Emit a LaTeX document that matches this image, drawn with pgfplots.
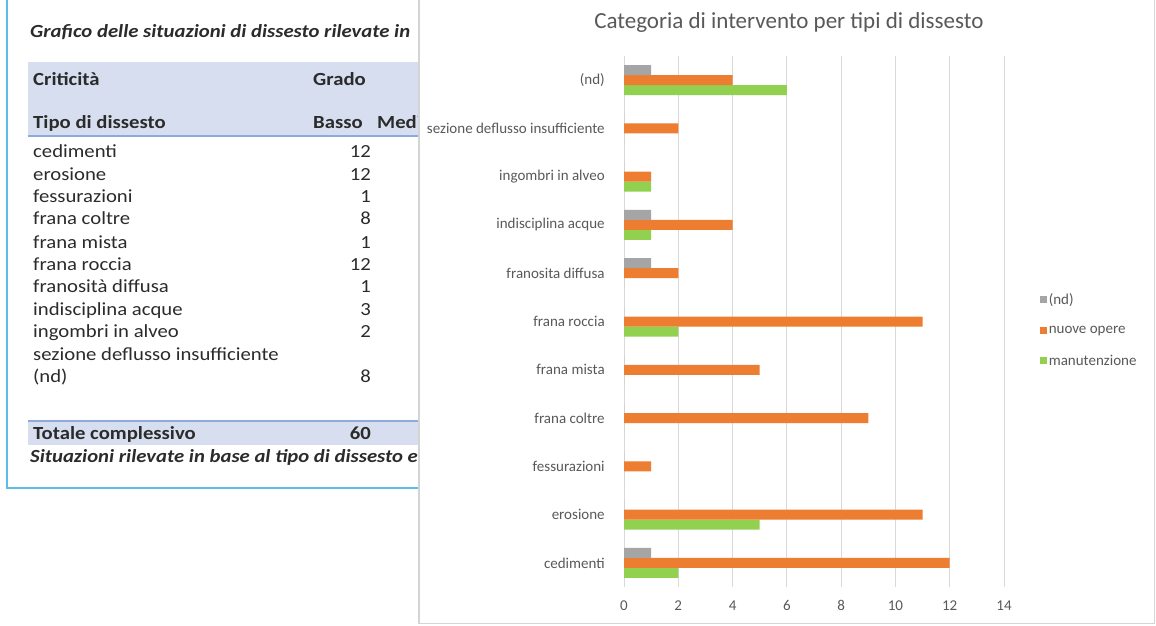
\documentclass[border=0pt]{standalone}
\usepackage{pgfplots}
\pgfplotsset{compat=1.18}
\usepackage{pgfplotstable}
\usepackage{fontspec}
\setmainfont{Carlito}
\newfontfamily\tabfont[FakeStretch=1.12]{Carlito}
\definecolor{ndgray}{HTML}{A5A5A5}
\definecolor{nuovo}{HTML}{ED7D31}
\definecolor{manut}{HTML}{92D050}
\definecolor{gridc}{HTML}{D9D9D9}
\definecolor{labc}{HTML}{595959}
\definecolor{hdrband}{HTML}{D6DEEF}
\definecolor{hdrline}{HTML}{8EA9DB}
\definecolor{frameblue}{HTML}{5DBDE6}
\definecolor{tabtext}{HTML}{2B2B2B}
\definecolor{panelb}{HTML}{D4D4D4}

\pgfplotstableread{
id nd nuove manut
0  1  12 2
1  0  11 5
2  0  1  0
3  0  9  0
4  0  5  0
5  0  11 2
6  1  2  0
7  1  4  1
8  0  1  1
9  0  2  0
10 1  4  6
}\datatab

\begin{document}
\begin{tikzpicture}
\useasboundingbox (0pt,0pt) rectangle (1156pt,625pt);
% ---------- left table panel ----------
\begin{scope}[every node/.style={inner sep=0pt, text=tabtext, font=\tabfont\fontsize{18.5}{20}\selectfont}]
\fill[hdrband] (28pt,490pt) rectangle (418pt,563pt);
\draw[hdrline, line width=1.5pt] (28pt,489pt) -- (418pt,489pt);
\fill[hdrband] (28pt,180pt) rectangle (418pt,204pt);
\draw[hdrline, line width=1.5pt] (28pt,204pt) -- (418pt,204pt);
\node[anchor=base west, font=\tabfont\fontsize{18.5}{20}\selectfont\bfseries\itshape] at (30pt,587pt) {Grafico delle situazioni di dissesto rilevate in};
\node[anchor=base west, font=\tabfont\fontsize{18.5}{20}\selectfont\bfseries] at (33pt,539pt) {Criticità};
\node[anchor=base west, font=\tabfont\fontsize{18.5}{20}\selectfont\bfseries] at (313pt,539pt) {Grado};
\node[anchor=base west, font=\tabfont\fontsize{18.5}{20}\selectfont\bfseries] at (33pt,496pt) {Tipo di dissesto};
\node[anchor=base west, font=\tabfont\fontsize{18.5}{20}\selectfont\bfseries] at (313pt,496pt) {Basso};
\node[anchor=base west, font=\tabfont\fontsize{18.5}{20}\selectfont\bfseries] at (377pt,496pt) {Medio};
\node[anchor=base west] at (33pt,467pt) {cedimenti};
\node[anchor=base west] at (33pt,444pt) {erosione};
\node[anchor=base west] at (33pt,422pt) {fessurazioni};
\node[anchor=base west] at (33pt,400pt) {frana coltre};
\node[anchor=base west] at (33pt,377pt) {frana mista};
\node[anchor=base west] at (33pt,355pt) {frana roccia};
\node[anchor=base west] at (33pt,333pt) {franosità diffusa};
\node[anchor=base west] at (33pt,310pt) {indisciplina acque};
\node[anchor=base west] at (33pt,288pt) {ingombri in alveo};
\node[anchor=base west] at (33pt,265pt) {sezione deflusso insufficiente};
\node[anchor=base west] at (33pt,243pt) {(nd)};
\node[anchor=base east] at (371pt,467pt) {12};
\node[anchor=base east] at (371pt,444pt) {12};
\node[anchor=base east] at (371pt,422pt) {1};
\node[anchor=base east] at (371pt,400pt) {8};
\node[anchor=base east] at (371pt,377pt) {1};
\node[anchor=base east] at (371pt,355pt) {12};
\node[anchor=base east] at (371pt,333pt) {1};
\node[anchor=base east] at (371pt,310pt) {3};
\node[anchor=base east] at (371pt,288pt) {2};
\node[anchor=base east] at (371pt,243pt) {8};
\node[anchor=base west, font=\tabfont\fontsize{18.5}{20}\selectfont\bfseries] at (33pt,186pt) {Totale complessivo};
\node[anchor=base east, font=\tabfont\fontsize{18.5}{20}\selectfont\bfseries] at (371pt,186pt) {60};
\node[anchor=base west, font=\tabfont\fontsize{18.5}{20}\selectfont\bfseries\itshape] at (30pt,163pt) {Situazioni rilevate in base al tipo di dissesto e grado};
\end{scope}
\draw[frameblue, line width=2pt] (7pt,625pt) -- (7pt,137pt) -- (418pt,137pt);
% ---------- chart panel ----------
\fill[white] (418pt,0pt) rectangle (1156pt,625pt);
\draw[panelb, line width=1.5pt] (418.75pt,625pt) -- (418.75pt,1.5pt) -- (1154.5pt,1.5pt) -- (1154.5pt,625pt);
\begin{axis}[
  at={(624pt,38pt)}, anchor=south west,
  scale only axis, width=380pt, height=531pt,
  xbar, bar width=10pt,
  xmin=0, xmax=14, ymin=-0.5, ymax=10.5,
  xtick={0,2,...,14}, ytick={0,...,10},
  yticklabels={cedimenti,erosione,fessurazioni,frana coltre,frana mista,frana roccia,franosita diffusa,indisciplina acque,ingombri in alveo,sezione deflusso insufficiente,(nd)},
  xmajorgrids, grid style={draw=gridc, line width=1pt},
  axis line style={draw=none}, tick style={draw=none},
  ticklabel style={font=\fontsize{15}{16}\selectfont, text=labc},
  xticklabel style={yshift=-10pt},
  yticklabel style={xshift=-11.5pt},
  /pgf/number format/assume math mode=true,
  title={Categoria di intervento per tipi di dissesto},
  title style={at={(0.434,1.051)}, anchor=center, font=\fontsize{23}{24}\selectfont, text=labc},
  reverse legend,
  legend cell align=left,
  legend style={at={(1.087,0.484)}, anchor=west, draw=none, fill=none,
    font=\fontsize{15}{16}\selectfont, text=labc, row sep=17pt,
    nodes={inner sep=1.5pt}},
  legend image code/.code={\fill[#1] (0pt,-3.5pt) rectangle (7pt,3.5pt);},
]
\addplot[fill=manut, draw=none, bar shift=-10pt] table[x=manut, y=id] {\datatab};
\addlegendentry{manutenzione}
\addplot[fill=nuovo, draw=none, bar shift=0pt] table[x=nuove, y=id] {\datatab};
\addlegendentry{nuove opere}
\addplot[fill=ndgray, draw=none, bar shift=10pt] table[x=nd, y=id] {\datatab};
\addlegendentry{(nd)}
\end{axis}
\end{tikzpicture}
\end{document}
